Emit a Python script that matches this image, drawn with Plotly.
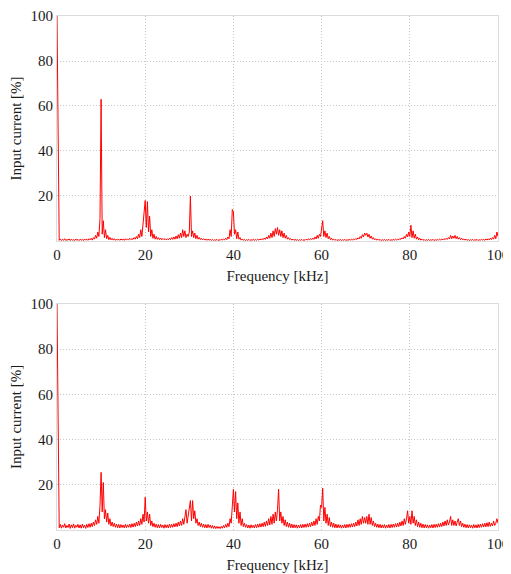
import plotly.graph_objects as go
from plotly.subplots import make_subplots

F_STEP_KHZ = 0.25  # spectrum bin width

# Top spectrum: input current [%] per 0.25 kHz bin, 0 .. 100 kHz
top_current = [
    100, 50, 0.3, 0.9, 0.2, 0.7, 0.3, 1.0, 0.2, 0.6, 0.4, 0.9, 0.2, 0.8, 0.3, 0.6, 0.2, 0.9, 0.3, 0.7,
    0.2, 0.8, 0.3, 0.7, 0.2, 0.9, 0.4, 0.8, 0.3, 1.0, 0.5, 1.2, 0.4, 1.5, 0.8, 2.5, 1.2, 4.0, 2.0, 10.0,
    63, 3.0, 9.0, 1.5, 5.0, 1.0, 2.5, 0.6, 1.6, 0.5, 1.2, 0.4, 1.0, 0.3, 0.9, 0.4, 0.8, 0.3, 0.9, 0.4,
    0.8, 0.3, 1.0, 0.4, 0.9, 0.5, 1.2, 0.6, 1.0, 0.7, 1.5, 0.8, 2.0, 1.0, 3.0, 1.5, 5.0, 2.0, 7.0, 12.0,
    18.0, 6.0, 17.5, 4.0, 11.0, 2.0, 5.0, 1.2, 3.0, 0.8, 2.0, 0.7, 1.5, 0.6, 1.3, 0.5, 1.1, 0.6, 1.0, 0.5,
    1.0, 0.5, 1.2, 0.6, 1.5, 0.7, 1.8, 0.8, 2.2, 1.0, 2.8, 1.2, 3.5, 1.5, 5.0, 2.0, 4.5, 1.5, 3.0, 2.0,
    4.0, 20.0, 2.0, 4.5, 1.5, 3.5, 1.0, 2.5, 0.8, 1.6, 0.6, 1.2, 0.5, 1.0, 0.4, 0.9, 0.3, 0.8, 0.4, 0.7,
    0.3, 0.7, 0.2, 0.6, 0.3, 0.7, 0.2, 0.6, 0.3, 0.8, 0.4, 0.9, 0.5, 1.2, 0.6, 1.8, 1.0, 5.0, 2.0, 14.0,
    13.0, 3.0, 5.0, 1.0, 4.0, 0.8, 1.5, 0.4, 0.9, 0.3, 0.7, 0.2, 0.6, 0.3, 0.7, 0.2, 0.6, 0.3, 0.7, 0.3,
    0.7, 0.3, 0.8, 0.4, 0.9, 0.5, 1.0, 0.6, 1.3, 0.7, 1.8, 0.9, 2.5, 1.2, 3.5, 1.5, 4.5, 2.0, 5.5, 3.0,
    6.0, 2.5, 5.0, 2.0, 4.5, 1.5, 3.5, 1.2, 2.5, 0.8, 1.5, 0.6, 1.0, 0.4, 0.8, 0.3, 0.7, 0.3, 0.6, 0.2,
    0.6, 0.3, 0.7, 0.2, 0.6, 0.3, 0.8, 0.4, 0.9, 0.5, 1.1, 0.6, 1.3, 0.7, 1.8, 0.9, 2.5, 1.2, 3.0, 2.0,
    5.0, 9.0, 2.0, 4.5, 1.5, 3.5, 1.0, 2.0, 0.6, 1.2, 0.4, 0.8, 0.3, 0.7, 0.2, 0.6, 0.3, 0.7, 0.2, 0.6,
    0.3, 0.7, 0.2, 0.6, 0.3, 0.7, 0.4, 0.8, 0.4, 0.9, 0.5, 1.1, 0.7, 1.4, 0.9, 2.0, 1.2, 2.8, 1.8, 3.5,
    2.5, 3.5, 1.8, 3.0, 1.2, 2.2, 0.8, 1.5, 0.5, 1.0, 0.4, 0.8, 0.3, 0.7, 0.2, 0.6, 0.3, 0.7, 0.2, 0.6,
    0.3, 0.7, 0.2, 0.6, 0.3, 0.7, 0.4, 0.8, 0.4, 0.9, 0.5, 1.1, 0.7, 1.4, 0.9, 2.0, 1.2, 3.0, 1.8, 4.0,
    2.0, 7.0, 1.5, 4.5, 1.2, 3.0, 0.8, 1.8, 0.5, 1.2, 0.4, 0.8, 0.3, 0.7, 0.2, 0.6, 0.3, 0.7, 0.2, 0.6,
    0.3, 0.7, 0.2, 0.6, 0.3, 0.7, 0.4, 0.8, 0.4, 0.9, 0.5, 1.0, 0.6, 1.2, 0.7, 1.5, 0.9, 2.5, 1.0, 2.2,
    1.2, 2.5, 1.0, 2.0, 0.8, 1.5, 0.6, 1.2, 0.5, 0.9, 0.4, 0.8, 0.3, 0.7, 0.2, 0.6, 0.3, 0.7, 0.2, 0.6,
    0.3, 0.7, 0.2, 0.6, 0.3, 0.8, 0.4, 0.7, 0.3, 0.9, 0.4, 1.0, 0.5, 1.2, 0.6, 1.5, 0.8, 2.5, 1.0, 4.0,
    2.0,
]

# Bottom spectrum: input current [%] per 0.25 kHz bin, 0 .. 100 kHz
bottom_current = [
    100, 50, 1.0, 2.5, 0.8, 2.2, 1.2, 2.8, 0.9, 2.0, 1.1, 2.6, 0.7, 2.3, 1.0, 2.7, 0.8, 2.1, 1.2, 2.5,
    0.9, 2.3, 0.8, 2.6, 1.0, 2.2, 0.7, 2.5, 1.1, 2.8, 1.2, 3.0, 1.5, 3.5, 2.0, 4.5, 2.5, 6.0, 3.0, 11.0,
    25.5, 8.0, 21.0, 5.0, 9.0, 3.5, 7.5, 2.5, 5.0, 1.8, 3.5, 1.5, 3.0, 1.2, 2.6, 1.0, 2.5, 0.9, 2.4, 1.1,
    2.2, 0.9, 2.5, 1.0, 2.3, 1.2, 2.6, 1.1, 2.8, 1.3, 3.0, 1.5, 3.5, 1.8, 4.0, 2.0, 5.0, 2.5, 7.0, 3.5,
    14.5, 4.0, 8.0, 3.0, 7.0, 2.0, 4.0, 1.5, 3.0, 1.2, 2.6, 1.0, 2.4, 0.9, 2.5, 1.1, 2.2, 0.8, 2.4, 1.0,
    2.3, 0.9, 2.6, 1.1, 2.5, 1.2, 2.8, 1.4, 3.0, 1.5, 3.5, 1.8, 4.0, 2.0, 5.0, 2.5, 6.0, 9.0, 3.0, 7.0,
    11.0, 13.0, 4.0, 13.0, 5.0, 8.5, 3.0, 5.0, 2.0, 3.5, 1.5, 3.0, 1.2, 2.6, 1.0, 2.4, 0.9, 2.5, 1.1, 2.2,
    0.8, 2.0, 0.7, 1.8, 0.6, 1.6, 0.7, 1.5, 0.6, 1.6, 0.8, 2.0, 1.0, 2.5, 1.2, 3.0, 1.5, 5.0, 3.0, 13.0,
    18.0, 8.0, 17.0, 5.0, 12.0, 3.0, 8.0, 2.0, 5.0, 1.5, 3.0, 1.2, 2.4, 0.9, 2.2, 0.8, 2.3, 1.0, 2.1, 0.9,
    2.4, 1.0, 2.6, 1.2, 2.8, 1.3, 3.0, 1.5, 3.5, 1.6, 4.0, 2.0, 5.0, 2.2, 6.0, 2.5, 7.0, 3.0, 8.0, 4.0,
    9.0, 18.0, 4.0, 8.0, 3.0, 6.0, 2.0, 4.5, 1.5, 3.5, 1.2, 3.0, 1.0, 2.6, 0.9, 2.4, 1.0, 2.3, 0.8, 2.2,
    1.0, 2.4, 0.9, 2.5, 1.1, 2.6, 1.2, 2.8, 1.3, 3.0, 1.5, 3.5, 1.8, 4.0, 2.0, 5.0, 2.5, 6.0, 4.0, 11.0,
    10.0, 18.5, 4.0, 10.0, 3.0, 7.0, 2.0, 5.5, 1.5, 3.5, 1.2, 3.0, 1.0, 2.6, 0.9, 2.4, 1.0, 2.3, 0.8, 2.2,
    1.0, 2.4, 0.9, 2.5, 1.1, 2.6, 1.2, 2.8, 1.3, 3.0, 1.5, 3.5, 1.8, 4.5, 2.0, 5.0, 2.5, 6.0, 3.0, 5.5,
    3.0, 6.0, 2.5, 7.0, 2.5, 5.5, 2.0, 4.0, 1.5, 3.0, 1.2, 2.6, 1.0, 2.5, 0.9, 2.3, 1.0, 2.4, 0.8, 2.2,
    1.0, 2.4, 0.9, 2.5, 1.1, 2.6, 1.2, 2.8, 1.3, 3.0, 1.5, 3.5, 1.8, 4.0, 2.0, 5.0, 2.5, 5.0, 8.5, 3.0,
    6.0, 2.5, 8.5, 3.0, 6.0, 2.0, 4.5, 1.5, 3.5, 1.2, 3.0, 1.0, 2.6, 0.9, 2.4, 1.0, 2.3, 0.8, 2.2, 1.0,
    2.4, 0.9, 2.5, 1.1, 2.6, 1.2, 2.8, 1.3, 3.0, 1.5, 3.5, 1.8, 4.0, 2.0, 4.5, 2.2, 3.5, 6.0, 2.0, 4.5,
    2.0, 4.0, 1.8, 3.5, 5.0, 2.0, 4.0, 1.5, 3.0, 1.2, 2.6, 1.0, 2.4, 0.9, 2.3, 1.0, 2.2, 0.8, 2.4, 1.0,
    2.3, 0.9, 2.5, 1.1, 2.6, 1.2, 2.8, 1.3, 3.0, 1.4, 3.2, 1.5, 3.5, 1.6, 3.0, 1.8, 4.0, 2.0, 3.0, 5.0,
    3.0,
]

x_ticks = [0, 20, 40, 60, 80, 100]
y_ticks = [20, 40, 60, 80, 100]
x_title = "Frequency [kHz]"
y_title = "Input current [%]"

freq_top = [i * F_STEP_KHZ for i in range(len(top_current))]
freq_bottom = [i * F_STEP_KHZ for i in range(len(bottom_current))]

fig = make_subplots(rows=2, cols=1, vertical_spacing=0.12)

fig.add_trace(go.Scatter(x=freq_top, y=top_current, mode="lines",
                         line=dict(color="#ff0000", width=1), showlegend=False),
              row=1, col=1)
fig.add_trace(go.Scatter(x=freq_bottom, y=bottom_current, mode="lines",
                         line=dict(color="#ff0000", width=1), showlegend=False),
              row=2, col=1)

font_family = "Liberation Serif, Times New Roman, Times, serif"
text_color = "#1a1a1a"
axis_common = dict(
    showgrid=True, gridcolor="#c8c8c8", griddash="1px,2px", gridwidth=1,
    showline=True, linecolor="#dcdcdc", linewidth=1, mirror=True,
    zeroline=False, ticks="", automargin=False,
    tickfont=dict(size=15, color=text_color, family=font_family),
)

for r in (1, 2):
    fig.update_xaxes(range=[0, 100], tickvals=x_ticks,
                     title=dict(text=x_title, font=dict(size=15, color=text_color, family=font_family), standoff=8),
                     row=r, col=1, **axis_common)
    fig.update_yaxes(range=[0, 100], tickvals=y_ticks,
                     title=dict(text=y_title, font=dict(size=15, color=text_color, family=font_family), standoff=6),
                     row=r, col=1, **axis_common)

# The page places the figure 8 px in from the top-left corner (default body margin),
# so the figure itself is 8 px smaller in each direction.
fig.update_layout(
    width=503, height=566,
    margin=dict(l=49, r=13, t=8, b=44),
    paper_bgcolor="white", plot_bgcolor="white",
    font=dict(family=font_family, color=text_color),
    xaxis=dict(domain=[0, 1]), xaxis2=dict(domain=[0, 1]),
    yaxis=dict(domain=[0.5623, 1.0]),
    yaxis2=dict(domain=[0.0, 0.44]),
)

fig.write_html("out.html")
